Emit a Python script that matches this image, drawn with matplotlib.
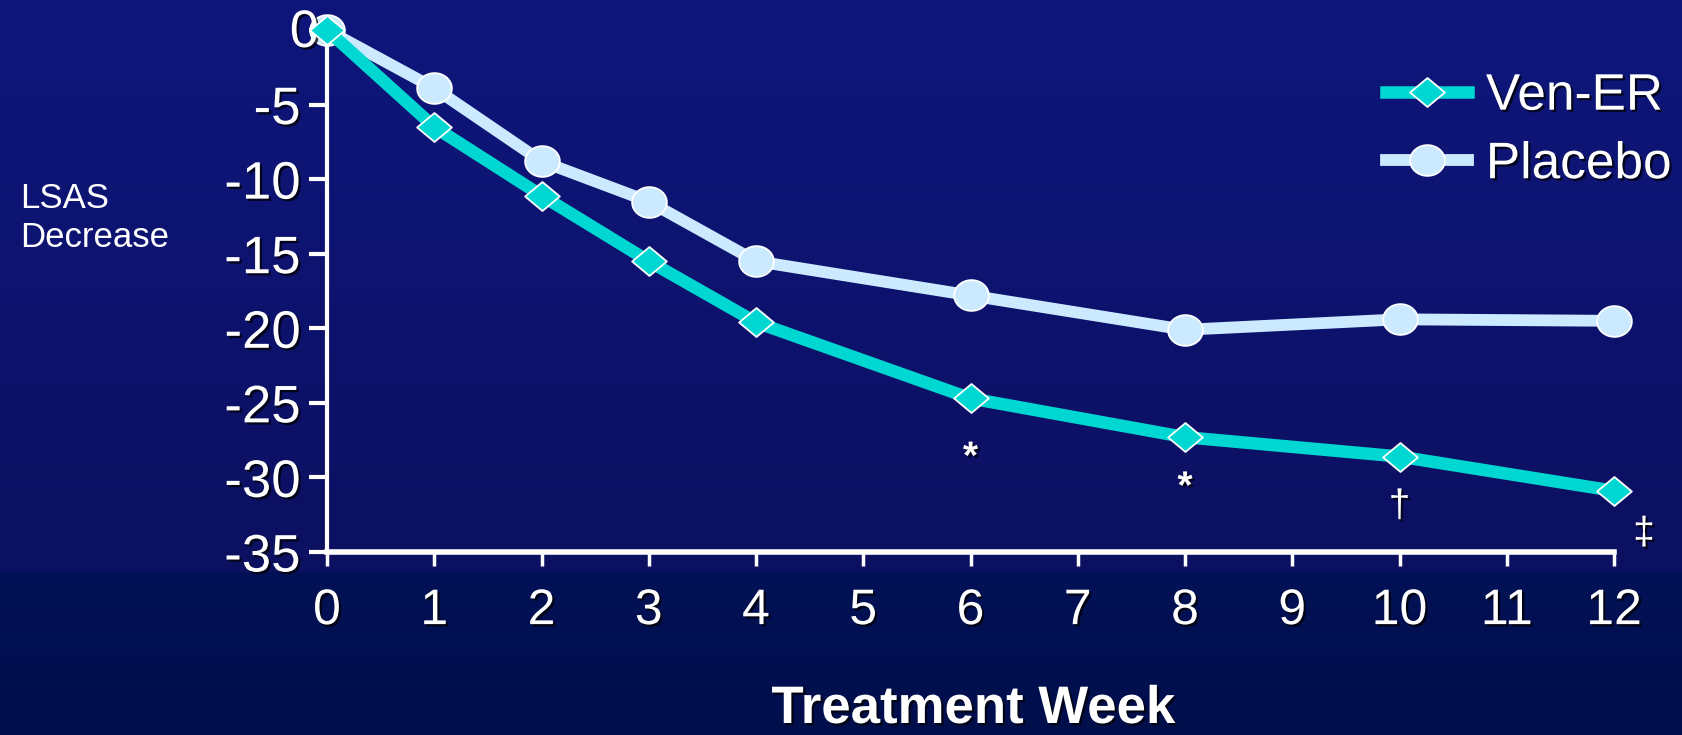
import numpy as np
import matplotlib.pyplot as plt
from matplotlib.path import Path
from matplotlib import patheffects as pe

# LSAS change from baseline by treatment week
weeks = [0, 1, 2, 3, 4, 6, 8, 10, 12]
ven_er = [0, -6.5, -11.1, -15.5, -19.6, -24.7, -27.3, -28.6, -30.9]
placebo = [0, -3.9, -8.8, -11.5, -15.5, -17.8, -20.1, -19.4, -19.5]

series_names = ["Ven-ER", "Placebo"]
x_ticks = list(range(0, 13))
y_ticks = [0, -5, -10, -15, -20, -25, -30, -35]

# significance marks under the Ven-ER points: (week, symbol, offset in px)
sig_marks = [(6, "*", (0, -60)), (8, "*", (0, -51)),
             (10, "\u2020", (0, -50)), (12, "\u2021", (30, -43))]

VEN_COLOR = "#00d7d2"
PBO_COLOR = "#cceaff"
FONT = "Liberation Sans"

W, H, DPI = 1682, 735, 100
fig = plt.figure(figsize=(W / DPI, H / DPI), dpi=DPI)

# slide background: dark navy gradient with a slightly darker band at the bottom
bg = fig.add_axes([0, 0, 1, 1], zorder=-10)
rows = np.linspace(0, 1, H)
top = np.array([14, 22, 124]) / 255
mid = np.array([12, 16, 96]) / 255
low1 = np.array([3, 18, 86]) / 255
low2 = np.array([0, 14, 76]) / 255
cut = 572 / H
img = np.zeros((H, 1, 3))
for i, r in enumerate(rows):
    if r < cut:
        t = r / cut
        img[i, 0] = top * (1 - t) + mid * t
    else:
        t = (r - cut) / (1 - cut)
        img[i, 0] = low1 * (1 - t) + low2 * t
bg.imshow(img, aspect="auto", extent=[0, 1, 0, 1])
bg.axis("off")

shadow = [pe.withSimplePatchShadow(offset=(1.6, -1.6), shadow_rgbFace="black", alpha=0.75)]

# plot area in pixels
x0, x1 = 327, 1614
y_top, y_bot = 30, 552
ax = fig.add_axes([x0 / W, (H - y_bot) / H, (x1 - x0) / W, (y_bot - y_top) / H])
ax.set_facecolor("none")

# slightly stretched marker shapes
diamond = Path([(-1.2, 0), (0, 1), (1.2, 0), (0, -1), (-1.2, 0)],
               [Path.MOVETO, Path.LINETO, Path.LINETO, Path.LINETO, Path.CLOSEPOLY])
theta = np.linspace(0, 2 * np.pi, 60)
ellipse = Path(np.column_stack([1.13 * np.cos(theta), np.sin(theta)]))

ax.plot(weeks, placebo, color=PBO_COLOR, lw=8.5, marker=ellipse, ms=25,
        mfc=PBO_COLOR, mec="white", mew=1.3, clip_on=False, zorder=3,
        label=series_names[1])
ax.plot(weeks, ven_er, color=VEN_COLOR, lw=9, marker=diamond, ms=25,
        mfc=VEN_COLOR, mec="white", mew=1.3, clip_on=False, zorder=4,
        label=series_names[0])

ax.set_xlim(0, 12)
ax.set_ylim(-35, 0)
ax.set_xticks(x_ticks)
ax.set_xticklabels([str(t) for t in x_ticks])
ax.set_yticks(y_ticks)
ax.set_yticklabels(["" if t == 0 else str(t) for t in y_ticks])

for side in ["top", "right"]:
    ax.spines[side].set_visible(False)
ax.spines["left"].set_color("white")
ax.spines["left"].set_linewidth(3)
ax.spines["bottom"].set_color("white")
ax.spines["bottom"].set_linewidth(4)

ax.tick_params(axis="y", direction="out", length=13, width=3, color="white",
               pad=6, labelcolor="white", labelsize=38)
ax.tick_params(axis="x", direction="out", length=10, width=2.5, color="white",
               pad=16, labelcolor="white", labelsize=36)
for lab in ax.get_xticklabels() + ax.get_yticklabels():
    lab.set_fontfamily(FONT)
    lab.set_path_effects(shadow)

# the zero label sits closer to the axis
ax.annotate("0", xy=(0, 0), xycoords="data", xytext=(-8, -3), textcoords="offset pixels",
            ha="right", va="center", color="white", fontsize=38, fontfamily=FONT,
            path_effects=shadow, annotation_clip=False)

for wk, sym, off in sig_marks:
    yv = ven_er[weeks.index(wk)]
    ax.annotate(sym, xy=(wk, yv), xytext=off, textcoords="offset pixels",
                ha="center", va="center", color="white", fontsize=28,
                fontweight="bold" if sym == "*" else "normal", fontfamily=FONT,
                path_effects=shadow, annotation_clip=False)

handles, labels = ax.get_legend_handles_labels()
leg = ax.legend(handles[::-1], labels[::-1], loc="upper left",
                bbox_to_anchor=(1360 / W, (H - 46) / H), bbox_transform=fig.transFigure,
                frameon=False, prop={"family": FONT, "size": 37},
                handlelength=1.6, handletextpad=0.35, labelspacing=0.38, borderpad=0)
for txt in leg.get_texts():
    txt.set_color("white")
    txt.set_path_effects(shadow)

fig.text(20 / W, 1 - 218 / H, "LSAS\nDecrease", color="white", fontsize=25,
         fontfamily=FONT, ha="left", va="center", linespacing=1.25)

fig.text(973 / W, 1 - 723 / H, "Treatment Week", color="white", fontsize=38,
         fontweight="bold", fontfamily=FONT, ha="center", va="baseline",
         path_effects=shadow)

fig.savefig("out.png", dpi=DPI)
